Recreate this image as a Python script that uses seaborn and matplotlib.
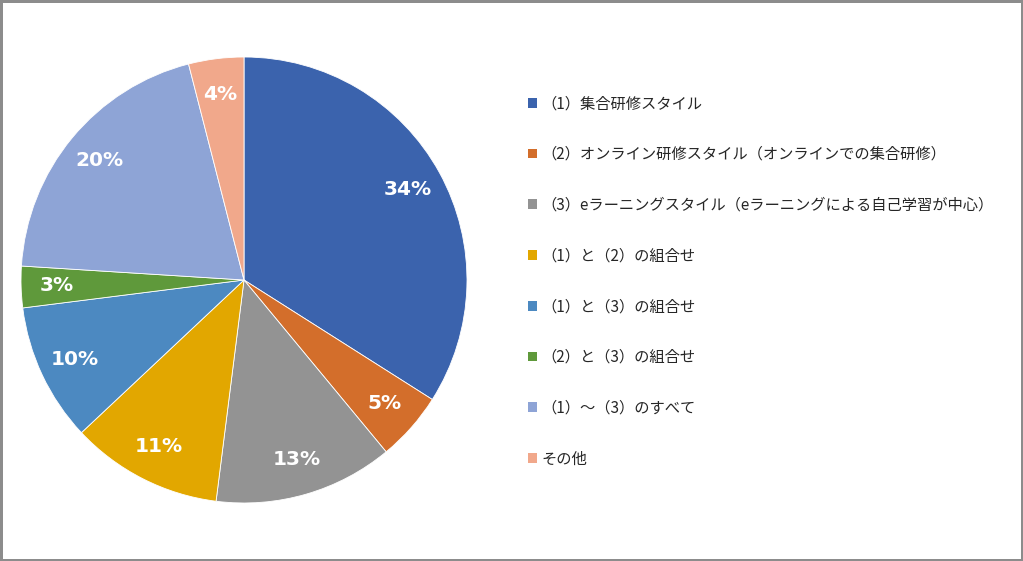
import matplotlib
matplotlib.use("Agg")
import matplotlib.pyplot as plt
import seaborn as sns
from matplotlib.patches import Patch

labels = [
    "（1）集合研修スタイル",
    "（2）オンライン研修スタイル（オンラインでの集合研修）",
    "（3）eラーニングスタイル（eラーニングによる自己学習が中心）",
    "（1）と（2）の組合せ",
    "（1）と（3）の組合せ",
    "（2）と（3）の組合せ",
    "（1）～（3）のすべて",
    "その他",
]
values = [34, 5, 13, 11, 10, 3, 20, 4]
colors = ["#3B63AD", "#D36E2B", "#939393", "#E2A700", "#4C89C1", "#5F993B", "#8EA4D6", "#F1A88B"]

sns.set_theme(style="white")
plt.rcParams["font.family"] = ["Noto Sans CJK JP", "DejaVu Sans"]

fig = plt.figure(figsize=(10.23, 5.61), dpi=100)
fig.patch.set_edgecolor("#8c8c8c")
fig.patch.set_linewidth(2.5)

ax = fig.add_axes([21 / 1023, 58 / 561, 446 / 1023, 446 / 561])
pal = sns.color_palette(colors)
wedges, texts, autotexts = ax.pie(
    values, colors=pal, startangle=90, counterclock=False,
    autopct=lambda p: f"{p:.0f}%", pctdistance=0.84,
    wedgeprops=dict(edgecolor="white", linewidth=0.6),
    textprops=dict(color="white", fontsize=14.5, fontweight="bold", family=["DejaVu Sans"]),
)
ax.set_xlim(-1, 1)
ax.set_ylim(-1, 1)
ax.set_aspect("equal")

handles = [Patch(facecolor=c, edgecolor="none") for c in pal]
fig.legend(handles, labels, loc="upper left", bbox_to_anchor=(522 / 1023, 1 - 89 / 561),
           frameon=False, fontsize=11, handlelength=0.6, handleheight=0.6,
           handletextpad=0.3, labelspacing=2.21, borderaxespad=0)

fig.savefig("out.png", dpi=100)
